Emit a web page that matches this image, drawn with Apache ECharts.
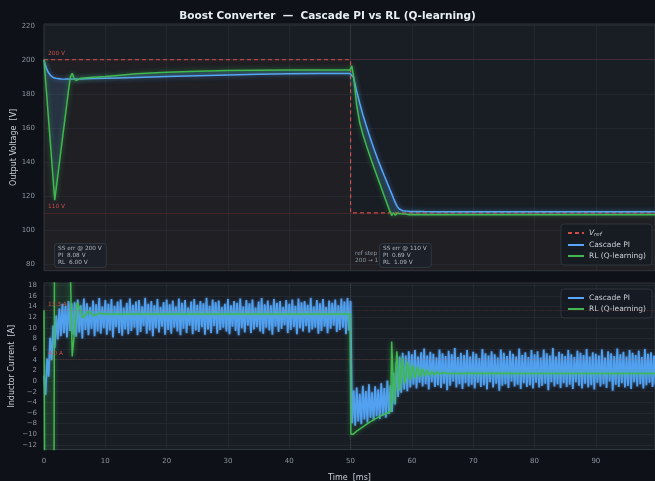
<!DOCTYPE html>
<html>
<head>
<meta charset="utf-8">
<script src="https://cdn.jsdelivr.net/npm/echarts@6/dist/echarts.min.js"></script>
<style>
  html, body { margin: 0; padding: 0; background: #0e1117; }
  #chart { width: 655px; height: 481px; }
</style>
</head>
<body>
<div id="chart"></div>
<script>
// ---- Output voltage traces (ms, V) ----
const tV = [0, 0.2, 0.4, 0.6, 0.8, 1.0, 1.2, 1.4, 1.6, 1.75,
  1.9, 2.2, 2.5, 2.8, 3.1, 3.4, 3.7, 4.0, 4.3, 4.6,
  4.9, 5.2, 5.5, 6.0, 7, 8, 10, 12, 15, 20,
  25, 30, 35, 40, 45, 49.9, 50.0, 50.2, 50.5, 51,
  51.5, 52, 52.5, 53, 53.5, 54, 54.5, 55, 55.5, 56,
  56.4, 56.7, 57.0, 57.3, 57.6, 57.9, 58.2, 58.5, 59, 59.5,
  60, 61, 62, 64, 67, 70, 75, 80, 85, 90,
  95, 99.65];
const vPI = [200.0, 197.2, 195.0, 193.3, 192.0, 191.0, 190.3, 189.8, 189.4, 189.2,
  189.1, 188.9, 188.8, 188.7, 188.7, 188.6, 188.6, 188.6, 188.6, 188.6,
  188.6, 188.7, 188.7, 188.7, 188.8, 188.9, 189.1, 189.3, 189.6, 190.1,
  190.6, 191.0, 191.4, 191.7, 191.85, 191.92, 192.0, 192.6, 189.5, 181.5,
  174.4, 167.8, 161.9, 156.3, 150.9, 145.8, 140.9, 136.3, 131.8, 127.4,
  123.9, 121.3, 118.6, 116.0, 113.8, 112.4, 111.7, 111.3, 111.05, 110.9,
  110.85, 110.78, 110.74, 110.71, 110.7, 110.69, 110.69, 110.69, 110.69, 110.69,
  110.69, 110.69];
const vRL = [200.0, 190.6, 181.2, 171.7, 162.3, 152.8, 143.4, 134.0, 124.5, 117.5,
  121.8, 130.4, 139.0, 147.6, 156.2, 164.8, 173.4, 182.0, 189.8, 192.0,
  189.2, 187.7, 188.5, 189.1, 189.4, 189.7, 190.2, 190.8, 191.7, 192.7,
  193.3, 193.6, 193.8, 193.9, 194.0, 194.0, 194.1, 196.4, 190.0, 173.0,
  162.8, 156.2, 150.4, 145.0, 139.8, 134.7, 129.7, 124.7, 119.8, 114.9,
  111.0, 108.4, 110.1, 108.6, 109.8, 108.7, 109.5, 108.8, 109.3, 108.9,
  109.05, 108.95, 108.92, 108.91, 108.91, 108.91, 108.91, 108.91, 108.91, 108.91,
  108.91, 108.91];

// Reference voltage step
const refT = [0, 50, 50, 99.65];
const refV = [200, 200, 110, 110];

// ---- Inductor current, cascade PI (sampled every I_DT ms) ----
const I_DT = 0.25;
const iPI = [
  1.0, -2.6, 4.2, 0.8, 8.1, 3.9, 10.4, 6.2, 12.3, 7.8, 13.6, 8.4, 14.5, 9.0, 14.1, 8.2, 15.0, 9.4, 14.6, 8.7,
  14.8, 8.3, 15.3, 9.1, 14.2, 8.0, 15.5, 9.6, 14.6, 8.6, 13.9, 9.8, 15.1, 8.4, 14.4, 9.3, 15.6, 8.9, 14.0, 9.9,
  15.2, 8.7, 14.5, 9.5, 15.4, 8.2, 14.1, 10.1, 14.9, 9.0, 15.3, 8.5, 13.8, 9.7, 14.7, 8.8, 15.5, 9.4, 14.3, 10.0,
  14.9, 8.6, 15.2, 9.2, 14.0, 10.3, 15.6, 8.9, 14.5, 9.5, 15.0, 8.4, 14.2, 9.9, 15.4, 9.1, 13.9, 10.2, 14.8, 8.7,
  15.3, 9.6, 14.4, 8.9, 15.1, 10.0, 14.0, 9.3, 15.5, 8.6, 14.7, 9.8, 15.2, 9.0, 13.8, 10.4, 14.9, 8.8, 15.4, 9.5,
  14.3, 9.2, 15.0, 10.1, 14.6, 8.7, 15.6, 9.7, 14.1, 9.0, 15.3, 10.3, 14.8, 8.9, 15.1, 9.6, 13.9, 10.0, 14.5, 9.3,
  15.4, 8.8, 14.2, 10.2, 15.0, 9.4, 14.7, 8.6, 15.5, 9.9, 14.0, 9.1, 15.2, 10.4, 14.6, 9.0, 15.3, 9.7, 13.8, 10.1,
  14.9, 9.3, 15.6, 8.9, 14.4, 10.0, 15.1, 9.5, 14.2, 8.7, 15.4, 10.2, 14.7, 9.2, 15.0, 9.8, 13.9, 10.5, 15.2, 9.0,
  14.5, 9.6, 15.3, 10.1, 14.1, 8.8, 15.5, 9.9, 14.8, 9.3, 15.0, 10.3, 14.3, 9.1, 15.6, 9.7, 14.0, 10.0, 15.2, 8.9,
  14.6, 9.4, 15.4, 10.2, 13.9, 9.0, 15.1, 9.8, 14.7, 10.4, 15.3, 9.2, 14.2, 9.6, 15.5, 10.0, 14.9, 8.8, 15.6, 9.5,
  15.0, -7.9, -1.8, -8.4, -1.2, -7.6, -2.4, -8.1, -0.9, -7.2, -1.9, -7.8, -0.6, -6.9, -2.1, -7.4, -1.0, -6.6, -1.6, -7.1,
  -0.4, -6.5, -1.3, -6.9, 0.1, -6.2, -0.8, -5.8, 1.6, -4.4, 3.6, -3.0, 4.6, -2.2, 5.3, -1.6, 4.8, -1.9, 5.6, -1.2,
  5.0, -0.7, 5.8, -1.4, 4.6, -0.3, 5.4, -1.0, 6.1, -0.6, 4.8, -1.6, 5.5, -0.2, 5.1, -1.1, 4.4, -0.8, 5.9, -1.3,
  5.2, -0.5, 4.7, -1.7, 5.7, -0.9, 5.0, -0.1, 6.2, -1.2, 4.5, -0.6, 5.3, -1.5, 4.9, -0.4, 5.8, -1.0, 4.6, -0.7,
  5.5, -1.4, 5.1, -0.3, 4.3, -1.1, 6.0, -0.8, 5.2, -1.6, 4.8, -0.2, 5.6, -1.2, 5.0, -0.5, 4.4, -1.8, 5.9, -0.9,
  5.3, -0.6, 4.7, -1.3, 5.7, -0.1, 5.1, -1.0, 4.6, -0.7, 6.1, -1.5, 4.9, -0.4, 5.4, -1.1, 4.5, -0.8, 5.8, -1.4,
  5.0, -0.3, 5.6, -1.2, 4.4, -0.9, 5.9, -0.5, 5.2, -1.7, 4.8, -0.2, 6.2, -1.0, 4.6, -0.6, 5.5, -1.3, 5.1, -0.4,
  4.7, -1.1, 5.8, -0.7, 5.0, -1.5, 4.5, -0.2, 5.7, -0.9, 5.3, -1.4, 4.9, -0.5, 6.0, -1.2, 4.6, -0.8, 5.4, -1.6,
  5.1, -0.3, 4.8, -1.0, 5.9, -0.6, 4.4, -1.3, 5.6, -0.1, 5.2, -1.8, 4.7, -0.7, 6.1, -1.1, 5.0, -0.4, 5.5, -1.2,
  4.6, -0.9, 5.8, -1.5, 5.3, -0.2, 4.9, -1.0, 5.7, -0.6, 4.5, -1.4, 6.0, -0.8, 5.1, -0.3, 5.4, -1.1, 4.8, -0.7
];

// ---- Inductor current, RL agent (ms, A) ----
const tIRL = [0, 0.05, 0.16, 1.62, 1.72, 4.22, 4.6, 5.0, 5.4, 5.85,
  6.3, 6.75, 7.2, 7.7, 8.1, 8.6, 9.0, 10, 12, 15,
  20, 30, 40, 49.9, 50.05, 50.4, 51, 52, 53, 54,
  55, 56, 56.55, 56.7, 57.1, 57.55, 58.0, 58.4, 58.85, 59.3,
  59.7, 60.1, 60.5, 60.9, 61.3, 61.7, 62.1, 62.5, 62.9, 63.3,
  63.7, 64.1, 64.5, 65, 66, 70, 80, 90, 99.65];
const iRL = [13.3, 13.5, -30, -30, 35, 25, 4.6, 9.8, 14.7, 13.6,
  11.9, 12.4, 13.1, 12.7, 12.3, 12.5, 12.7, 12.6, 12.6, 12.6,
  12.6, 12.6, 12.6, 12.6, -10.0, -10.0, -9.4, -8.6, -7.8, -7.1,
  -6.5, -6.0, -5.7, 7.4, -4.2, 5.6, -1.8, 4.4, -0.4, 3.6,
  0.2, 3.0, 0.6, 2.6, 0.8, 2.3, 1.0, 2.0, 1.1, 1.8,
  1.2, 1.7, 1.3, 1.6, 1.4, 1.45, 1.4, 1.4, 1.4];

// Steady-state current levels for each voltage reference
const iRefLevels = [13.3, 4.0];

// Axis ticks
const vTicks = [80, 100, 120, 140, 160, 180, 200, 220];
const iTicks = [-12, -10, -8, -6, -4, -2, 0, 2, 4, 6, 8, 10, 12, 14, 16, 18];

// ---- styling ----
const FONT = 'DejaVu Sans';
const C_BG = '#0e1117', C_AX = '#191d24', C_GRID = '#262b34', C_SPINE = '#30363d';
const C_TICK = '#8b949e', C_LABEL = '#c9d1d9';
const C_PI = '#58a6ff', C_RL = '#3fb950', C_REF = '#e5534b';

const pairs = (xs, ys) => xs.map((x, i) => [x, ys[i]]);
const piCurrent = iPI.map((v, i) => [i * I_DT, v]);
const rlCurrent = pairs(tIRL, iRL);

// shaded band between two traces: polygon along A, back along B (clamped to the plot)
function band(xi, yi, ptsA, ptsB, color) {
  return {
    type: 'custom', xAxisIndex: xi, yAxisIndex: yi, z: 1, silent: true,
    data: [ptsA[0]],
    renderItem: (params, api) => {
      const pts = ptsA.map(p => api.coord(p)).concat(ptsB.slice().reverse().map(p => api.coord(p)));
      const cs = params.coordSys;
      return {
        type: 'polygon',
        shape: { points: echarts.graphic.clipPointsByRect(pts, { x: cs.x, y: cs.y, width: cs.width, height: cs.height }) },
        style: { fill: color }
      };
    }
  };
}

// steady-state errors at the end of each reference segment
const iEnd200 = tV.indexOf(49.9);
const iEnd110 = tV.length - 1;
const err = (ref, v) => Math.abs(ref - v).toFixed(2);
const box1 = ['SS err @ ' + refV[0] + ' V', 'PI  ' + err(refV[0], vPI[iEnd200]) + ' V', 'RL  ' + err(refV[0], vRL[iEnd200]) + ' V'].join('\n');
const box2 = ['SS err @ ' + refV[2] + ' V', 'PI  ' + err(refV[2], vPI[iEnd110]) + ' V', 'RL  ' + err(refV[2], vRL[iEnd110]) + ' V'].join('\n');

const minus = v => String(v).replace('-', '\u2212');

const gridBase = { left: 44, right: 0, show: true, backgroundColor: C_AX, borderColor: C_SPINE, borderWidth: 1, outerBoundsMode: 'none', containLabel: false };
const xBase = {
  type: 'value', min: 0, max: 99.65, interval: 10,
  axisLine: { show: false }, axisTick: { show: false },
  splitLine: { lineStyle: { color: C_GRID, width: 0.8 } }
};
const glow = (c, w, b) => ({ color: c, width: w, shadowBlur: b, shadowColor: c + 'aa' });
const legendBase = {
  orient: 'vertical', right: 3,
  itemWidth: 16, itemHeight: 7, itemGap: 3,
  padding: [5, 6, 5, 6],
  backgroundColor: 'rgba(22,27,34,0.9)', borderColor: C_SPINE, borderWidth: 1, borderRadius: 3,
  itemStyle: { opacity: 0 }
};

const chart = echarts.init(document.getElementById('chart'), null, { renderer: 'canvas' });
chart.setOption({
  backgroundColor: C_BG,
  animation: false,
  textStyle: { fontFamily: FONT },
  title: {
    text: 'Boost Converter  \u2014  Cascade PI vs RL (Q-learning)',
    left: 'center', top: 6,
    textStyle: { color: '#e6edf3', fontSize: 10.5, fontWeight: 'bold', fontFamily: FONT }
  },
  grid: [
    Object.assign({ top: 24, height: 246.7 }, gridBase),
    Object.assign({ top: 283, height: 166.5 }, gridBase)
  ],
  xAxis: [
    Object.assign({ gridIndex: 0, axisLabel: { show: false } }, xBase),
    Object.assign({
      gridIndex: 1,
      axisLabel: { color: C_TICK, fontSize: 7, margin: 8, fontFamily: FONT, showMaxLabel: false },
      name: 'Time  [ms]', nameLocation: 'middle', nameGap: 24, nameMoveOverlap: false,
      nameTextStyle: { color: C_LABEL, fontSize: 8, fontFamily: FONT }
    }, xBase)
  ],
  yAxis: [
    {
      gridIndex: 0, type: 'value', min: 76, max: 221,
      axisLine: { show: false },
      axisTick: { show: false, customValues: vTicks },
      axisLabel: { customValues: vTicks, color: C_TICK, fontSize: 7, margin: 9, fontFamily: FONT },
      splitLine: { lineStyle: { color: C_GRID, width: 0.8 } },
      name: 'Output Voltage  [V]', nameLocation: 'middle', nameGap: 26, nameMoveOverlap: false,
      nameTextStyle: { color: C_LABEL, fontSize: 8, fontFamily: FONT }
    },
    {
      gridIndex: 1, type: 'value', min: -12.85, max: 18.4,
      axisLine: { show: false },
      axisTick: { show: false, customValues: iTicks },
      axisLabel: { customValues: iTicks, color: C_TICK, fontSize: 7, margin: 7, fontFamily: FONT, formatter: minus },
      splitLine: { lineStyle: { color: C_GRID, width: 0.8 } },
      name: 'Inductor Current  [A]', nameLocation: 'middle', nameGap: 28, nameMoveOverlap: false,
      nameTextStyle: { color: C_LABEL, fontSize: 8, fontFamily: FONT }
    }
  ],
  legend: [
    Object.assign({
      data: ['Vref', 'Cascade PI', 'RL (Q-learning)'],
      top: 224,
      formatter: n => n === 'Vref' ? '{v|V}{s|ref}' : n,
      textStyle: {
        color: C_LABEL, fontSize: 7.5, fontFamily: FONT,
        rich: {
          v: { color: C_LABEL, fontSize: 7.5, fontStyle: 'italic', fontFamily: FONT },
          s: { color: C_LABEL, fontSize: 5.5, fontStyle: 'italic', fontFamily: FONT, padding: [4, 0, 0, 0] }
        }
      }
    }, legendBase),
    Object.assign({
      data: ['Cascade PI', 'RL (Q-learning)'],
      top: 289,
      textStyle: { color: C_LABEL, fontSize: 7.5, fontFamily: FONT }
    }, legendBase)
  ],
  graphic: [
    {
      type: 'text', left: 54, top: 243, z: 50,
      style: {
        text: box1, fill: '#aeb6bf', font: '5.8px "DejaVu Sans"', lineHeight: 7,
        backgroundColor: '#1c2129', borderColor: C_SPINE, borderWidth: 1, borderRadius: 3, padding: [1, 4, 1, 3]
      }
    },
    {
      type: 'text', left: 355, top: 250, z: 40,
      style: {
        text: 'ref step\n' + refV[0] + ' \u2192 ' + refV[2] + ' V', fill: '#8b949e',
        font: '5.8px "DejaVu Sans"', lineHeight: 7
      }
    },
    {
      type: 'text', left: 379, top: 243, z: 50,
      style: {
        text: box2, fill: '#aeb6bf', font: '5.8px "DejaVu Sans"', lineHeight: 7,
        backgroundColor: '#1c2129', borderColor: C_SPINE, borderWidth: 1, borderRadius: 3, padding: [1, 4, 1, 3]
      }
    }
  ],
  series: [
    // ---- voltage panel ----
    band(0, 0, pairs(tV, vPI), pairs(tV, vRL), 'rgba(88,166,255,0.15)'),
    {
      name: 'Vref', type: 'line', xAxisIndex: 0, yAxisIndex: 0, z: 2,
      data: pairs(refT, refV), symbol: 'none', silent: true,
      lineStyle: { color: C_REF, width: 1.2, type: [4, 3], opacity: 0.9 },
      itemStyle: { color: C_REF },
      areaStyle: { color: 'rgba(229,83,75,0.045)', origin: 'start' },
      markLine: {
        silent: true, symbol: 'none',
        label: { position: 'insideStartTop', color: '#c9504a', fontSize: 5.8, fontFamily: FONT, distance: [4, 3] },
        data: [
          { yAxis: refV[0], label: { formatter: refV[0] + ' V' }, lineStyle: { color: 'rgba(229,83,75,0.2)', width: 0.8, type: 'solid' } },
          { yAxis: refV[2], label: { formatter: refV[2] + ' V' }, lineStyle: { color: 'rgba(229,83,75,0.22)', width: 0.8, type: 'solid' } },
          { xAxis: refT[1], label: { show: false }, lineStyle: { color: 'rgba(139,148,158,0.3)', width: 0.8, type: 'dotted' } }
        ]
      }
    },
    {
      name: 'Cascade PI', type: 'line', xAxisIndex: 0, yAxisIndex: 0, z: 3,
      data: pairs(tV, vPI), symbol: 'none', lineStyle: glow(C_PI, 1.5, 5), itemStyle: { color: C_PI }
    },
    {
      name: 'RL (Q-learning)', type: 'line', xAxisIndex: 0, yAxisIndex: 0, z: 4,
      data: pairs(tV, vRL), symbol: 'none', lineStyle: glow(C_RL, 1.5, 5), itemStyle: { color: C_RL }
    },
    // ---- current panel ----
    band(1, 1, rlCurrent.filter(p => p[0] <= 9), piCurrent.filter(p => p[0] <= 9), 'rgba(63,185,80,0.12)'),
    {
      name: 'iRef', type: 'line', xAxisIndex: 1, yAxisIndex: 1, z: 2,
      data: [], symbol: 'none', silent: true,
      markLine: {
        silent: true, symbol: 'none',
        label: { position: 'insideStartTop', color: '#c9504a', fontSize: 5.8, fontFamily: FONT, distance: [4, 3] },
        data: [
          { yAxis: iRefLevels[0], label: { formatter: iRefLevels[0].toFixed(1) + ' A' }, lineStyle: { color: 'rgba(229,83,75,0.3)', width: 0.8, type: 'dotted' } },
          { yAxis: iRefLevels[1], label: { formatter: iRefLevels[1].toFixed(1) + ' A' }, lineStyle: { color: 'rgba(229,83,75,0.3)', width: 0.8, type: 'dotted' } },
          { xAxis: refT[1], label: { show: false }, lineStyle: { color: 'rgba(139,148,158,0.4)', width: 0.8, type: 'dotted' } }
        ]
      }
    },
    {
      name: 'Cascade PI', type: 'line', xAxisIndex: 1, yAxisIndex: 1, z: 3,
      data: piCurrent, symbol: 'none', lineStyle: glow('#52a0f0', 1.8, 3), itemStyle: { color: C_PI }
    },
    {
      name: 'RL (Q-learning)', type: 'line', xAxisIndex: 1, yAxisIndex: 1, z: 4,
      data: rlCurrent, symbol: 'none', lineStyle: glow(C_RL, 1.5, 5), itemStyle: { color: C_RL }
    }
  ]
});
</script>
</body>
</html>
